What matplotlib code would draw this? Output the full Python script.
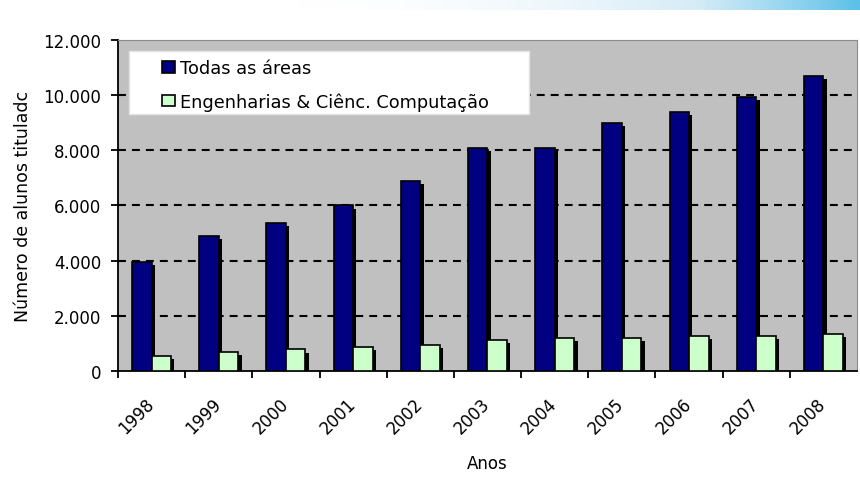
"""Titulados por ano: todas as áreas vs engenharias (matplotlib PNG)."""

import matplotlib.pyplot as plt
import matplotlib.patches as mpatches
import matplotlib.ticker as mticker
from matplotlib.colors import LinearSegmentedColormap
import numpy as np

plt.rcParams['font.family'] = ['DejaVu Sans']

anos = ['1998', '1999', '2000', '2001', '2002', '2003',
        '2004', '2005', '2006', '2007', '2008']
todas = [3950, 4900, 5380, 6000, 6900, 8100, 8100, 9000, 9400, 9950, 10680]
engenharias = [550, 700, 780, 870, 930, 1110, 1180, 1180, 1260, 1260, 1330]

NAVY = '#000080'
GREEN = '#CCFFCC'

fig = plt.figure(figsize=(8.6, 4.81), dpi=100)

# faded blue strip along the top edge
strip = fig.add_axes([0.29, 0.978, 0.71, 0.022])
grad = np.linspace(0, 1, 256) ** 2.2
strip.imshow(grad[None, :], aspect='auto', cmap=LinearSegmentedColormap.from_list(
    'strip', ['#FFFFFF', '#D6ECF7', '#5BC0E8']))
strip.axis('off')

ax = fig.add_axes([0.1372, 0.2266, 0.8593, 0.6882])
ax.set_facecolor('#C0C0C0')

x = np.arange(len(anos))
w = 0.29

# little Excel-like drop shadows
sh_dx, sh_dy = 0.05, 110
ax.bar(x - w / 2 + sh_dx, np.array(todas) - sh_dy, w, color='black', zorder=2)
ax.bar(x + w / 2 + sh_dx, np.array(engenharias) - sh_dy, w, color='black', zorder=2)

ax.bar(x - w / 2, todas, w, color=NAVY, edgecolor='black', linewidth=1.2,
       label='Todas as áreas', zorder=3)
ax.bar(x + w / 2, engenharias, w, color=GREEN, edgecolor='black', linewidth=1.2,
       label='Engenharias & Ciênc. Computação', zorder=3)

ax.set_xlim(-0.5, len(anos) - 0.5)
ax.set_ylim(0, 12000)
ax.yaxis.set_major_locator(mticker.MultipleLocator(2000))
ax.yaxis.set_major_formatter(mticker.FuncFormatter(
    lambda v, p: f'{int(v):,}'.replace(',', '.')))
for yv in range(2000, 12000, 2000):
    ax.axhline(yv, color='black', linestyle=(0, (3.8, 2.9)), linewidth=1.5, zorder=1)

ax.set_xticks(x - 0.5, minor=False)
ax.set_xticklabels([])
ax.set_xticks(x - 0.1, minor=True)
ax.set_xticklabels(anos, minor=True, rotation=45, ha='right', va='top',
                   rotation_mode='anchor', fontsize=12)
ax.tick_params(axis='x', which='minor', length=0, pad=17)
ax.tick_params(axis='x', which='major', length=5, width=1.3, direction='out')
ax.tick_params(axis='y', length=5, width=1.3, direction='out', labelsize=12, pad=7)

for side in ('top', 'right'):
    ax.spines[side].set_color('#8C8C8C')
for side in ('left', 'bottom'):
    ax.spines[side].set_color('black')
    ax.spines[side].set_linewidth(1.3)

ax.set_ylabel('Número de alunos tituladc', fontsize=12.5)
ax.yaxis.set_label_coords(-0.116, 0.5)
ax.set_xlabel('Anos', fontsize=12)
ax.xaxis.set_label_coords(0.5, -0.25)

# white legend box, drawn separately so the entries can sit indented
ax.add_patch(mpatches.Rectangle((0.0149, 0.775), 0.541, 0.193,
                                transform=ax.transAxes, facecolor='white',
                                edgecolor='#E4E4E4', linewidth=1, zorder=4))
leg = ax.legend(loc='upper left', bbox_to_anchor=(0.059, 0.942), fontsize=12.8,
                frameon=False, borderpad=0, labelspacing=0.85,
                handlelength=0.75, handleheight=0.62, handletextpad=0.3,
                borderaxespad=0)
leg.set_zorder(5)

fig.savefig('out.png', dpi=100)
